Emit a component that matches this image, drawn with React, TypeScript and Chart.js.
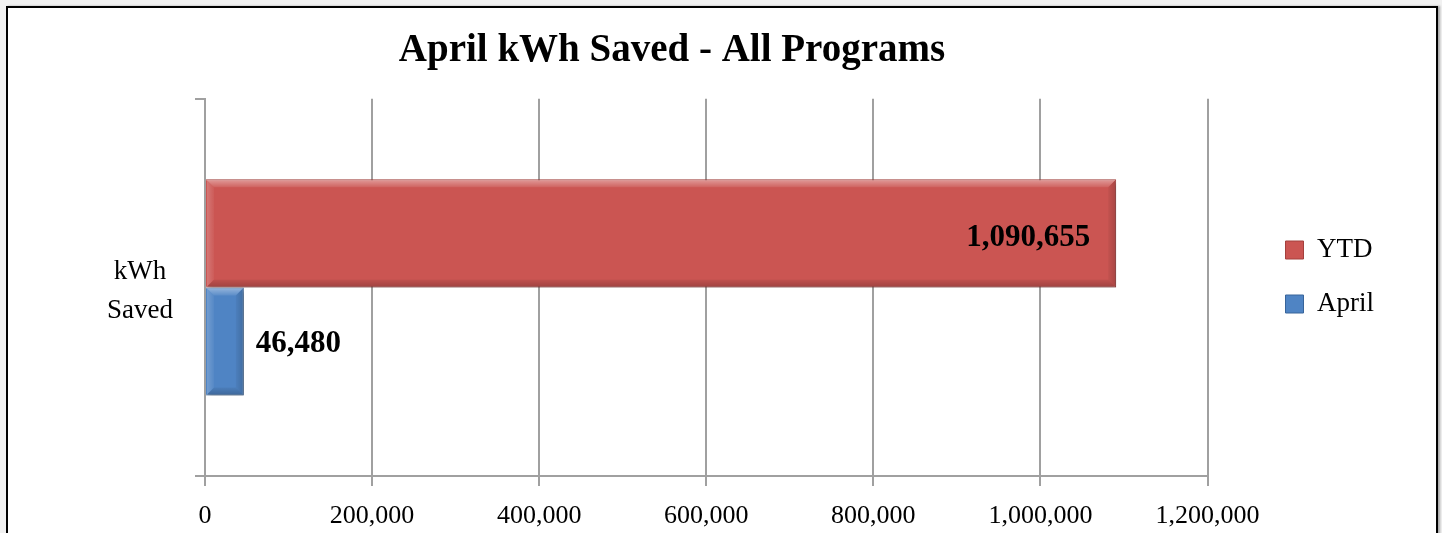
import React, { useEffect, useRef } from 'react';
import { Chart, registerables } from 'chart.js';

Chart.register(...registerables);

// ---- data ----
const categories = [['kWh', 'Saved']];
const seriesNames = ['YTD', 'April'];
const ytdValues = [1090655];
const aprilValues = [46480];
const xTickValues = [0, 200000, 400000, 600000, 800000, 1000000, 1200000];
const titleText = 'April kWh Saved - All Programs';

// ---- style ----
const FONT = "'Liberation Serif', 'Times New Roman', serif";
const GRID = '#a0a0a0';
const CANVAS_LEFT = -40;
const CANVAS_W = 1442 - CANVAS_LEFT;
const CANVAS_H = 533;
const labelPlacement = ['inside', 'outside'];

const barShadowPlugin = {
  id: 'barShadow',
  beforeDatasetsDraw(chart: any) {
    const c = chart.ctx;
    c.save();
    c.shadowColor = 'rgba(0,0,0,0.35)';
    c.shadowBlur = 5;
    c.shadowOffsetX = 2;
    c.shadowOffsetY = 3;
  },
  afterDatasetsDraw(chart: any) {
    const c = chart.ctx;
    c.restore();
    chart.data.datasets.forEach((_ds: any, di: number) => {
      const meta = chart.getDatasetMeta(di);
      meta.data.forEach((bar: any) => {
        const p = bar.getProps(['x', 'y', 'base', 'height'], true);
        const l = Math.min(p.x, p.base) + 1;
        const r = Math.max(p.x, p.base) - 1;
        const t = p.y - p.height / 2 + 1;
        const b = p.y + p.height / 2 - 1;
        const bv = 7;
        c.save();
        let g = c.createLinearGradient(0, t, 0, t + bv);
        g.addColorStop(0, 'rgba(255,255,255,0.38)');
        g.addColorStop(1, 'rgba(255,255,255,0.08)');
        c.fillStyle = g;
        c.beginPath(); c.moveTo(l, t); c.lineTo(r, t); c.lineTo(r - bv, t + bv); c.lineTo(l + bv, t + bv); c.closePath(); c.fill();
        g = c.createLinearGradient(0, b - bv, 0, b);
        g.addColorStop(0, 'rgba(0,0,0,0.05)');
        g.addColorStop(1, 'rgba(0,0,0,0.2)');
        c.fillStyle = g;
        c.beginPath(); c.moveTo(l, b); c.lineTo(r, b); c.lineTo(r - bv, b - bv); c.lineTo(l + bv, b - bv); c.closePath(); c.fill();
        g = c.createLinearGradient(r - bv, 0, r, 0);
        g.addColorStop(0, 'rgba(0,0,0,0.04)');
        g.addColorStop(1, 'rgba(0,0,0,0.16)');
        c.fillStyle = g;
        c.beginPath(); c.moveTo(r, t); c.lineTo(r, b); c.lineTo(r - bv, b - bv); c.lineTo(r - bv, t + bv); c.closePath(); c.fill();
        g = c.createLinearGradient(l, 0, l + bv, 0);
        g.addColorStop(0, 'rgba(255,255,255,0.2)');
        g.addColorStop(1, 'rgba(255,255,255,0.04)');
        c.fillStyle = g;
        c.beginPath(); c.moveTo(l, t); c.lineTo(l, b); c.lineTo(l + bv, b - bv); c.lineTo(l + bv, t + bv); c.closePath(); c.fill();
        c.restore();
      });
    });
  },
};

const valueLabelPlugin = {
  id: 'valueLabels',
  afterDatasetsDraw(chart: any) {
    const c = chart.ctx;
    c.save();
    c.font = `bold 31px ${FONT}`;
    c.fillStyle = '#000';
    c.textBaseline = 'middle';
    chart.data.datasets.forEach((ds: any, di: number) => {
      const meta = chart.getDatasetMeta(di);
      meta.data.forEach((bar: any, i: number) => {
        const text = Number(ds.data[i]).toLocaleString('en-US');
        if (labelPlacement[di] === 'inside') {
          c.textAlign = 'right';
          c.fillText(text, bar.x - 26, bar.y + 5);
        } else {
          c.textAlign = 'left';
          c.fillText(text, bar.x + 12, bar.y + 3);
        }
      });
    });
    c.restore();
  },
};

export default function App() {
  const ref = useRef<HTMLCanvasElement | null>(null);

  useEffect(() => {
    if (!ref.current) return;
    const chart = new Chart(ref.current, {
      type: 'bar',
      data: {
        labels: categories as any,
        datasets: [
          { label: seriesNames[0], data: ytdValues, backgroundColor: '#CB5552', borderColor: '#A4403D', borderWidth: 1 },
          { label: seriesNames[1], data: aprilValues, backgroundColor: '#4F84C4', borderColor: '#38649A', borderWidth: 1 },
        ],
      },
      options: {
        indexAxis: 'y',
        responsive: false,
        animation: false,
        devicePixelRatio: 1,
        layout: { padding: { top: 21, right: 58, bottom: 0, left: 0 } },
        datasets: { bar: { categoryPercentage: 0.573, barPercentage: 1 } },
        scales: {
          x: {
            type: 'linear',
            position: 'bottom',
            min: 0,
            max: 1200000,
            afterBuildTicks: (s: any) => { s.ticks = xTickValues.map((v) => ({ value: v })); },
            afterFit: (s: any) => { s.height = 57; },
            grid: { color: GRID, lineWidth: 2, tickLength: 10 },
            border: { display: true, color: GRID, width: 2 },
            ticks: {
              font: { family: FONT, size: 26 },
              color: '#000',
              padding: 15,
              maxRotation: 0,
              autoSkip: false,
              callback: (v: any) => Number(v).toLocaleString('en-US'),
            },
          },
          y: {
            type: 'category',
            position: 'left',
            afterFit: (s: any) => {
              s.width = 205 - CANVAS_LEFT;
              s.paddingTop = 0;
              s.paddingBottom = 0;
            },
            grid: { drawOnChartArea: false, tickLength: 10, color: GRID, lineWidth: 2 },
            border: { display: true, color: GRID, width: 2 },
            ticks: {
              font: { family: FONT, size: 27, lineHeight: 1.42 },
              color: '#000',
              padding: 22,
              crossAlign: 'center',
              labelOffset: 4,
            },
          },
          y2: {
            type: 'linear',
            position: 'right',
            display: true,
            afterFit: (s: any) => {
              s.width = 51;
              s.paddingTop = 0;
              s.paddingBottom = 0;
            },
            grid: { display: false },
            border: { display: false },
            ticks: { display: false },
          },
        },
        plugins: {
          title: {
            display: true,
            text: titleText,
            color: '#000',
            font: { family: FONT, size: 39, weight: 'bold', lineHeight: 1.2 },
            padding: { top: 7, bottom: 24 },
          },
          legend: {
            position: 'right',
            labels: {
              color: '#000',
              font: { family: FONT, size: 27 },
              boxWidth: 18,
              boxHeight: 18,
              padding: 27,
            },
          },
          tooltip: { enabled: false },
        },
      } as any,
      plugins: [barShadowPlugin, valueLabelPlugin],
    });
    return () => chart.destroy();
  }, []);

  return (
    <div style={{ position: 'fixed', left: 0, top: 0, width: 1442, height: 533, overflow: 'hidden', background: '#f1f1f1' }}>
      <div
        style={{
          position: 'absolute',
          left: 6,
          top: 6,
          width: 1428,
          height: 600,
          border: '2px solid #000',
          background: '#fff',
          boxShadow: '2px 0 2px rgba(0,0,0,0.3)',
        }}
      />
      <canvas
        ref={ref}
        width={CANVAS_W}
        height={CANVAS_H}
        style={{ position: 'absolute', left: CANVAS_LEFT, top: 0, width: CANVAS_W, height: CANVAS_H }}
      />
    </div>
  );
}
